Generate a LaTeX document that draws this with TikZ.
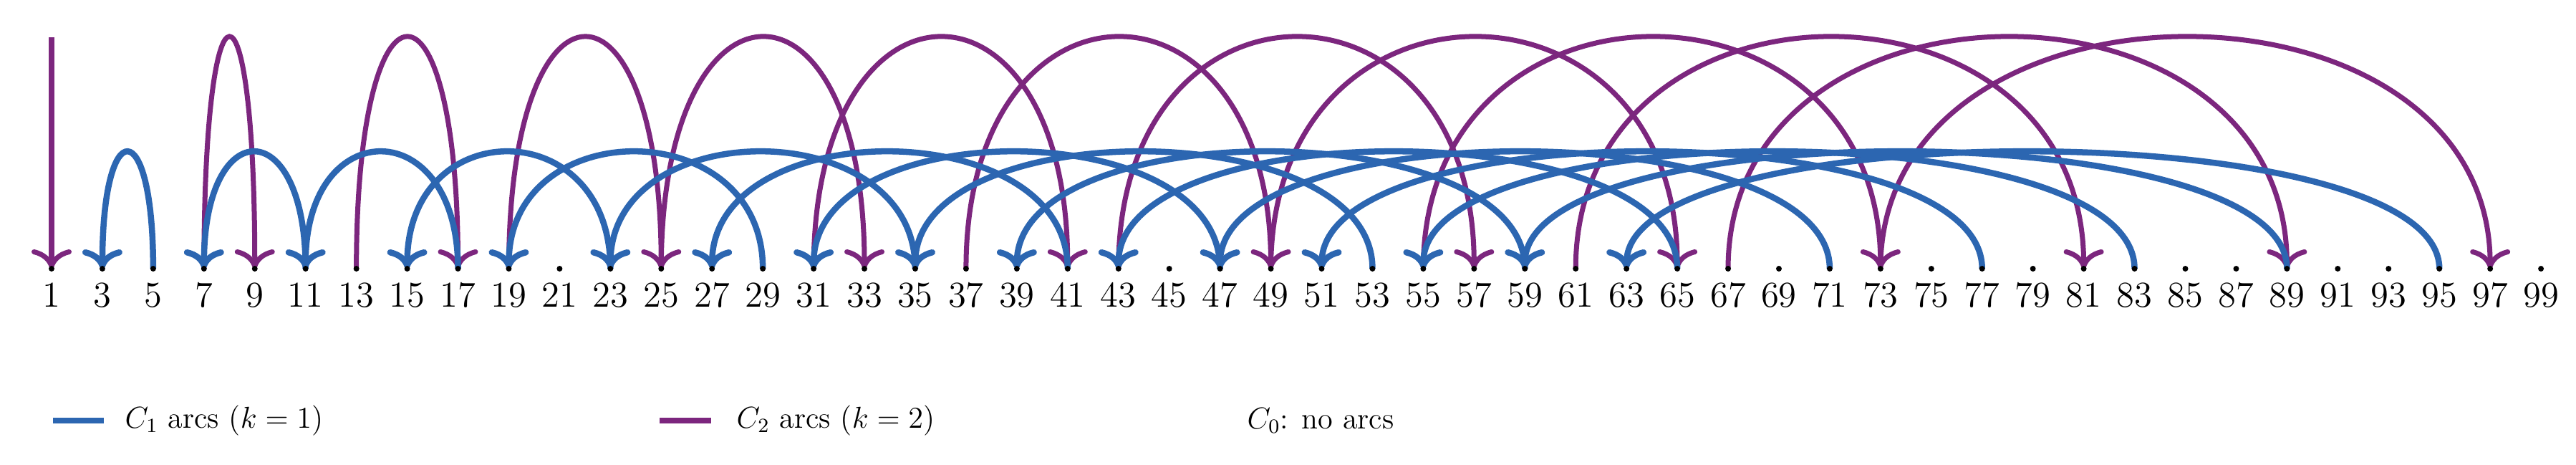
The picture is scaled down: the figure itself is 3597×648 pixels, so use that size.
\documentclass[tikz,border=0pt]{standalone}
\usetikzlibrary{arrows.meta}
\definecolor{cone}{HTML}{2C66B1}
\definecolor{ctwo}{HTML}{7C267E}
\tikzset{
  tipA/.tip={Computer Modern Rightarrow[length=0.27cm,width=0.56cm,line cap=round]},
  onearc/.style={draw=cone,line width=0.085cm,-tipA},
  twoarc/.style={draw=ctwo,line width=0.07cm,-tipA},
  numlab/.style={font=\Large,inner sep=0pt,anchor=base},
  legtxt/.style={font=\large,inner sep=0pt,anchor=west}
}
\begin{document}
\begin{tikzpicture}[x=0.01cm,y=0.01cm]
\useasboundingbox (0,0) rectangle (3597,648);
\foreach \n in {1,3,...,99}{
  \pgfmathsetmacro{\xx}{72+(\n-1)/2*70.94}
  \coordinate (p\n) at (\xx,273);
  \node[numlab] (l\n) at (\xx,220) {\n};
}
\coordinate (top1) at (72,596);
\draw[twoarc] (top1) -- (p1);
\foreach \n in {9,17,...,97}{
  \pgfmathtruncatemacro{\t}{(3*\n+1)/4}
  \draw[twoarc] (p\t) .. controls +(0,431) and +(0,431) .. (p\n);
}
\foreach \n in {3,7,...,63}{
  \pgfmathtruncatemacro{\t}{(3*\n+1)/2}
  \draw[onearc] (p\t) .. controls +(0,217) and +(0,217) .. (p\n);
}
\foreach \n in {1,3,...,99}{
  \fill (p\n) circle (4);
}
\coordinate (la) at (74,61); \coordinate (lb) at (145,61);
\draw[cone,line width=0.08cm] (la) -- (lb);
\node[legtxt] (t1) at (174,61) {$C_1$ arcs ($k=1$)};
\coordinate (lc) at (921,61); \coordinate (ld) at (993,61);
\draw[ctwo,line width=0.08cm] (lc) -- (ld);
\node[legtxt] (t2) at (1028,61) {$C_2$ arcs ($k=2$)};
\node[legtxt] (t0) at (1741,61) {$C_0$: no arcs};
\end{tikzpicture}
\end{document}
